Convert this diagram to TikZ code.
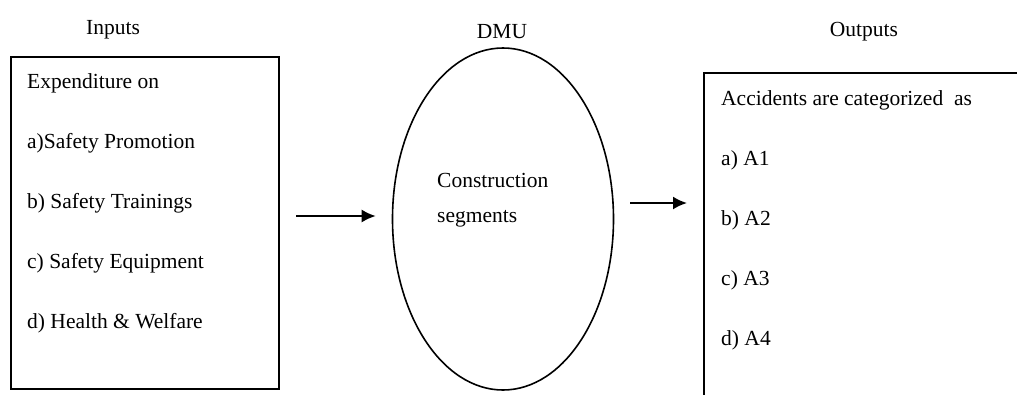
\documentclass[tikz,border=0pt]{standalone}
\usepackage{fontspec}
\setmainfont{Liberation Serif}
\usetikzlibrary{arrows.meta, positioning, shapes.geometric}

\begin{document}
\begin{tikzpicture}[x=1pt, y=-1pt, node distance=60pt, on grid,
    every node/.style={font=\fontsize{21.5}{35}\selectfont, inner sep=0pt},
    frame/.style={draw, rectangle, line width=2pt},
    item/.style={anchor=west},
    flow/.style={-{Latex[length=14pt, width=13pt]}, line width=2pt,
      shorten <=16pt, shorten >=16pt}]
  \useasboundingbox (0,0) rectangle (1017,394);
  \clip (0,0) rectangle (1017,394);
  % titles
  \node (tin) at (113,30) {Inputs};
  \node (tdmu) at (502,32) {DMU};
  \node (tout) at (864,32) {Outputs};
  % inputs
  \node[frame, minimum width=268pt, minimum height=332pt] (inbox) at (145,223) {};
  \node[item] (in0) at (27,83) {Expenditure on};
  \node[below=of in0.west, item] (in1) {a)Safety Promotion};
  \node[below=of in1.west, item] (in2) {b) Safety Trainings};
  \node[below=of in2.west, item] (in3) {c) Safety Equipment};
  \node[below=of in3.west, item] (in4) {d) Health \& Welfare};
  % DMU
  \node[draw, ellipse, line width=1.6pt, minimum width=221pt, minimum height=342pt] (dmu) at (503,219) {};
  \node[align=left, anchor=west] (seg) at (437,200) {Construction\\segments};
  % outputs
  \node[frame, anchor=north west, minimum width=340pt, minimum height=340pt] (outbox) at (703,72) {};
  \node[item] (out0) at (721,100) {Accidents are categorized\ \ as};
  \node[below=of out0.west, item] (out1) {a) A1};
  \node[below=of out1.west, item] (out2) {b) A2};
  \node[below=of out2.west, item] (out3) {c) A3};
  \node[below=of out3.west, item] (out4) {d) A4};
  % flow
  \draw[flow] (inbox.east |- 0,216) -- (dmu.west |- 0,216);
  \draw[flow] (dmu.east |- 0,203) -- (outbox.west |- 0,203);
\end{tikzpicture}
\end{document}
